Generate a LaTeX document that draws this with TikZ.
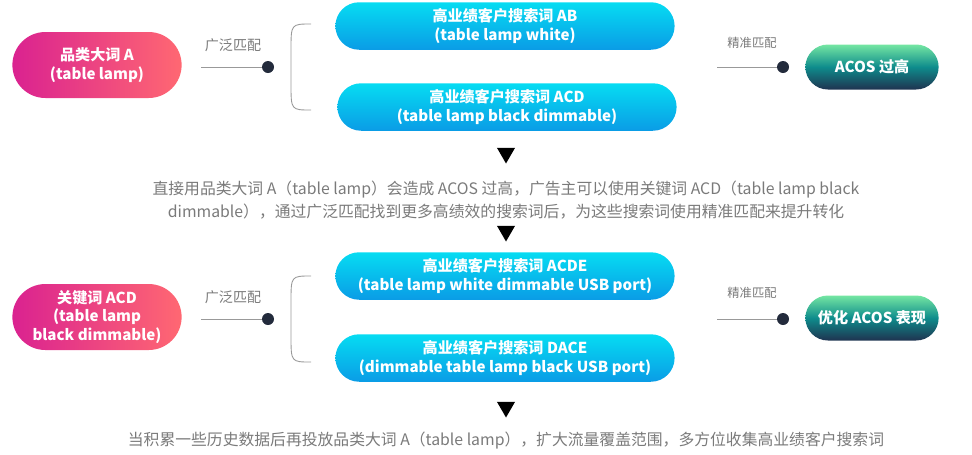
\documentclass[tikz,border=0pt]{standalone}
\usepackage{fontspec}
\setmainfont{Noto Sans CJK SC}
\usetikzlibrary{shapes.misc,shapes.geometric,positioning}
\definecolor{pinkL}{HTML}{DA2290}
\definecolor{pinkR}{HTML}{FF6872}
\definecolor{cyanT}{HTML}{06DCF2}
\definecolor{cyanB}{HTML}{0A9CE6}
\definecolor{greenT}{HTML}{74E6A2}
\definecolor{greenM}{HTML}{0E8C8C}
\definecolor{greenB}{HTML}{1F3350}
\definecolor{dotc}{HTML}{232B3C}
\definecolor{txtc}{HTML}{7A7A7A}

\begin{document}
\begin{tikzpicture}[x=0.02cm,y=-0.02cm,
		every node/.style={align=center},
		pinkpill/.style={rounded rectangle,minimum width=3.62cm,minimum height=1.32cm,
			left color=pinkL,right color=pinkR,text=white,font=\bfseries\fontsize{8.6}{10.5}\selectfont},
		bluepill/.style={rounded rectangle,minimum width=7.02cm,minimum height=0.95cm,
			top color=cyanT,bottom color=cyanB,text=white,font=\bfseries\fontsize{8.6}{10.5}\selectfont},
		greenpill/.style={rounded rectangle,minimum width=2.9cm,minimum height=0.9cm,
			top color=greenT,bottom color=greenB,middle color=greenM,text=white,font=\bfseries\fontsize{8.6}{10.5}\selectfont},
		dot/.style={circle,fill=dotc,inner sep=0pt,minimum size=0.24cm},
		tri/.style={regular polygon,regular polygon sides=3,shape border rotate=180,fill=black,inner sep=0pt,minimum size=0.42cm},
		note/.style={text=txtc,font=\fontsize{9}{13.5}\selectfont},
		link/.style={draw=gray!80,line width=0.5pt}
	]
	\useasboundingbox (0,0) rectangle (972,454);
	% first block
	\node[pinkpill] (catA) at (97,65) {品类大词 A\\(table lamp)};
	\node[note,font=\fontsize{8}{10}\selectfont] (broadA) at (233,45) {广泛匹配};
	\coordinate (broadAs) at (201,67);
	\node[dot] (broadAd) at (268,67) {};
	\draw[link] (broadAs) -- (broadAd);
	\draw[link] (311,24) .. controls (291,24) .. (291,50) -- (291,84) .. controls (291,110) .. (311,110);
	\node[bluepill] (kwAB) at (505,26) {高业绩客户搜索词 AB\\(table lamp white)};
	\node[bluepill] (kwACD) at (507,107) {高业绩客户搜索词 ACD\\(table lamp black dimmable)};
	\node[note,font=\fontsize{7}{9}\selectfont] (exactA) at (752,43) {精准匹配};
	\coordinate (exactAs) at (717,67);
	\node[dot] (exactAd) at (783,67) {};
	\draw[link] (exactAs) -- (exactAd);
	\node[greenpill] (acosHigh) at (872,67) {ACOS 过高};
	\node[tri] (triA) at (506,153) {};
	\node[note] (noteA) at (506,200) {直接用品类大词 A（table lamp）会造成 ACOS 过高，广告主可以使用关键词 ACD（table lamp black\\dimmable），通过广泛匹配找到更多高绩效的搜索词后，为这些搜索词使用精准匹配来提升转化};
	\node[tri] (triB) at (506,231) {};
	% second block
	\node[pinkpill] (kwB) at (97,317) {关键词 ACD\\(table lamp\\black dimmable)};
	\node[note,font=\fontsize{8}{10}\selectfont] (broadB) at (233,297) {广泛匹配};
	\coordinate (broadBs) at (201,319);
	\node[dot] (broadBd) at (268,319) {};
	\draw[link] (broadBs) -- (broadBd);
	\draw[link] (311,276) .. controls (291,276) .. (291,302) -- (291,336) .. controls (291,362) .. (311,362);
	\node[bluepill] (kwACDE) at (505,276) {高业绩客户搜索词 ACDE\\(table lamp white dimmable USB port)};
	\node[bluepill] (kwDACE) at (505,358) {高业绩客户搜索词 DACE\\(dimmable table lamp black USB port)};
	\node[note,font=\fontsize{7}{9}\selectfont] (exactB) at (752,293) {精准匹配};
	\coordinate (exactBs) at (717,319);
	\node[dot] (exactBd) at (783,319) {};
	\draw[link] (exactBs) -- (exactBd);
	\node[greenpill] (acosBetter) at (872,318) {优化 ACOS 表现};
	\node[tri] (triC) at (506,407) {};
	\node[note] (noteB) at (506,441) {当积累一些历史数据后再投放品类大词 A（table lamp），扩大流量覆盖范围，多方位收集高业绩客户搜索词};
\end{tikzpicture}
\end{document}
